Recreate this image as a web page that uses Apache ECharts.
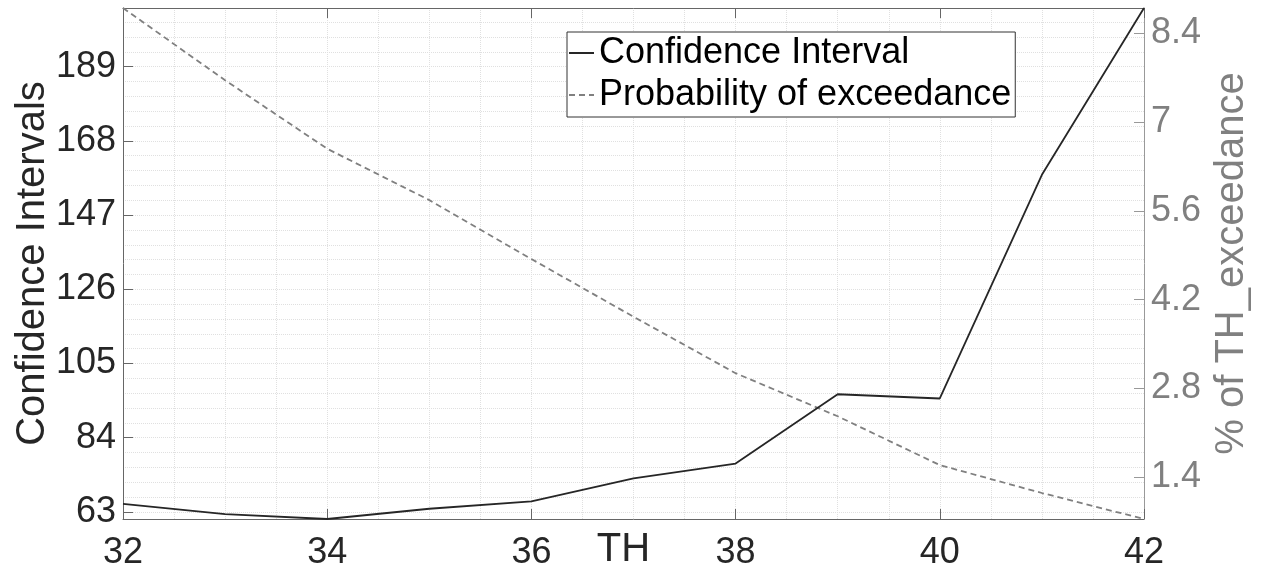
<!DOCTYPE html>
<html>
<head>
<meta charset="utf-8">
<script src="https://cdn.jsdelivr.net/npm/echarts@6/dist/echarts.min.js"></script>
<style>html,body{margin:0;padding:0;background:#fff}#c{width:1262px;height:568px}</style>
</head>
<body>
<div id="c"></div>
<script>
// ---- data ----
const thValues = [32, 33, 34, 35, 36, 37, 38, 39, 40, 41, 42];
const confidenceInterval = [65.3, 62.4, 61.0, 63.9, 66.0, 72.5, 76.7, 96.3, 95.1, 158.4, 205.6];
const probExceedance = [8.80, 7.66, 6.58, 5.77, 4.84, 3.93, 3.04, 2.36, 1.59, 1.15, 0.74];
const xTicks = [32, 34, 36, 38, 40, 42];
const leftTicks = [63, 84, 105, 126, 147, 168, 189];
const rightTicks = [1.4, 2.8, 4.2, 5.6, 7, 8.4];

const FONT = 'Liberation Sans, Arial, Helvetica, sans-serif';
const ciMin = Math.min(...confidenceInterval), ciMax = Math.max(...confidenceInterval);
const peMin = Math.min(...probExceedance), peMax = Math.max(...probExceedance);

// minor grid values for left axis (5 subdivisions per major step)
const leftStep = (leftTicks[1] - leftTicks[0]) / 5;
const gridVals = [];
for (let k = -20; k <= 60; k++) {
  const v = Math.round((leftTicks[0] + k * leftStep) * 1000) / 1000;
  if (v > ciMin && v < ciMax) gridVals.push(v);
}

const gridLine = { show: true, lineStyle: { color: '#e0e0e0', type: 'dotted', width: 1 } };

const chart = echarts.init(document.getElementById('c'), null, { renderer: 'canvas' });
chart.setOption({
  animation: false,
  backgroundColor: '#fff',
  textStyle: { fontFamily: FONT },
  grid: { left: 123, right: 118, top: 8, bottom: 49, containLabel: false, outerBoundsMode: 'none' },
  legend: {
    data: ['Confidence Interval', 'Probability of exceedance'],
    orient: 'vertical',
    left: 567, top: 32,
    itemWidth: 25, itemHeight: 12, itemGap: 6,
    padding: [3, 4, 4, 1],
    backgroundColor: '#fff',
    borderColor: '#333', borderWidth: 1,
    itemStyle: { opacity: 0 },
    textStyle: { fontFamily: FONT, fontSize: 36, color: '#000' }
  },
  xAxis: [
    {
      type: 'value', position: 'bottom', min: 32, max: 42, interval: 2,
      name: 'TH', nameLocation: 'middle', nameGap: 11, nameMoveOverlap: false,
      nameTextStyle: { fontFamily: FONT, fontSize: 40, color: '#262626', padding: [0, 20, 0, 0] },
      axisLine: { show: true, onZero: false, lineStyle: { color: '#666', width: 1 } },
      axisTick: { show: true, inside: true, length: 10, lineStyle: { color: '#666' } },
      axisLabel: { fontFamily: FONT, fontSize: 36, color: '#262626', margin: 16, showMinLabel: true, showMaxLabel: true },
      splitLine: gridLine,
      minorTick: { show: false, splitNumber: 4 },
      minorSplitLine: gridLine
    },
    {
      type: 'value', position: 'top', min: 32, max: 42, interval: 2,
      axisLine: { show: true, onZero: false, lineStyle: { color: '#666', width: 1 } },
      axisTick: { show: true, inside: true, length: 10, lineStyle: { color: '#666' } },
      axisLabel: { show: false },
      splitLine: { show: false }
    }
  ],
  yAxis: [
    {
      type: 'value', position: 'left', min: ciMin, max: ciMax,
      name: 'Confidence Intervals', nameLocation: 'middle', nameGap: 70, nameRotate: 90, nameMoveOverlap: false,
      nameTextStyle: { fontFamily: FONT, fontSize: 40, color: '#262626' },
      axisLine: { show: true, onZero: false, lineStyle: { color: '#666', width: 1 } },
      axisTick: { show: true, inside: true, length: 10, customValues: leftTicks, lineStyle: { color: '#666' } },
      axisLabel: { fontFamily: FONT, fontSize: 36, color: '#262626', margin: 7, customValues: leftTicks },
      splitLine: { show: false }
    },
    {
      type: 'value', position: 'right', min: peMin, max: peMax,
      name: '% of TH_exceedance', nameLocation: 'middle', nameGap: 68, nameRotate: 90, nameMoveOverlap: false,
      nameTextStyle: { fontFamily: FONT, fontSize: 40, color: '#808080' },
      axisLine: { show: true, onZero: false, lineStyle: { color: '#999', width: 1 } },
      axisTick: { show: true, inside: true, length: 10, customValues: rightTicks, lineStyle: { color: '#999' } },
      axisLabel: { fontFamily: FONT, fontSize: 36, color: '#808080', margin: 7, customValues: rightTicks },
      splitLine: { show: false }
    },
    {
      type: 'value', position: 'left', min: ciMin, max: ciMax,
      axisLine: { show: false },
      axisTick: { show: false, customValues: gridVals },
      axisLabel: { show: false },
      splitLine: gridLine
    }
  ],
  series: [
    {
      name: 'Confidence Interval', type: 'line', xAxisIndex: 0, yAxisIndex: 0,
      data: thValues.map((x, i) => [x, confidenceInterval[i]]),
      symbol: 'none', showSymbol: false,
      lineStyle: { color: '#262626', width: 1.8, type: 'solid' },
      itemStyle: { color: '#262626' },
      z: 5
    },
    {
      name: 'Probability of exceedance', type: 'line', xAxisIndex: 0, yAxisIndex: 1,
      data: thValues.map((x, i) => [x, probExceedance[i]]),
      symbol: 'none', showSymbol: false,
      lineStyle: { color: '#808080', width: 1.8, type: [6, 4] },
      itemStyle: { color: '#808080' },
      z: 4
    }
  ]
});
</script>
</body>
</html>
